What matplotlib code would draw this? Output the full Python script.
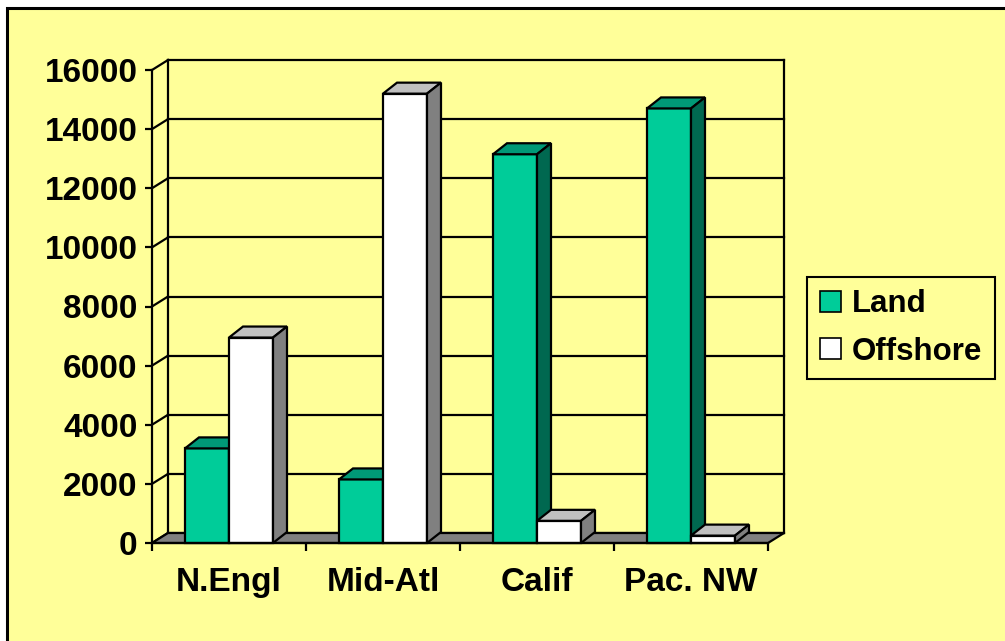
import matplotlib.pyplot as plt
import matplotlib.patches as mpatches
import numpy as np

plt.rcParams["font.family"] = ["Liberation Sans", "DejaVu Sans"]
plt.rcParams["font.weight"] = "bold"

categories = ["N.Engl", "Mid-Atl", "Calif", "Pac. NW"]
land = [3200, 2150, 13150, 14700]
offshore = [6950, 15200, 750, 250]
series_names = ["Land", "Offshore"]
y_ticks = np.arange(0, 16001, 2000)

YELLOW = "#FFFF99"
face_cols = [("#00CC99", "#009977", "#006850"), ("#FFFFFF", "#C0C0C0", "#808080")]

W, H = 1005, 641
fig = plt.figure(figsize=(W / 100, H / 100), dpi=100, facecolor="white")
fig.patches.append(mpatches.Rectangle((7 / W, -0.05), 1.1, 1 - 8 / H + 0.05,
                                      transform=fig.transFigure, facecolor=YELLOW,
                                      edgecolor="black", lw=2.2, zorder=-5))

ax = fig.add_axes([152 / W, 98 / H, 616 / W, 473 / H])
ax.set_facecolor("none")
ax.set_xlim(0, 4)
ax.set_ylim(0, 16000)

# depth of the 3d box, converted from pixels to data units
px_x = 4 / 616
px_y = 16000 / 473
ddx, ddy = 16 * px_x, 10 * px_y
bdx, bdy = 14 * px_x, 11 * px_y
lw = 1.6

# back wall + side wall grid
for v in y_ticks:
    ax.plot([ddx, 4 + ddx], [v + ddy, v + ddy], color="black", lw=lw, clip_on=False, zorder=1)
    ax.plot([0, ddx], [v, v + ddy], color="black", lw=lw, clip_on=False, zorder=1)
ax.plot([ddx, ddx], [ddy, 16000 + ddy], color="black", lw=lw, clip_on=False, zorder=1)
ax.plot([4 + ddx, 4 + ddx], [ddy, 16000 + ddy], color="black", lw=lw, clip_on=False, zorder=1)

# floor
ax.add_patch(mpatches.Polygon([(0, 0), (4, 0), (4 + ddx, ddy), (ddx, ddy)], closed=True,
                              facecolor="#808080", edgecolor="black", lw=lw, clip_on=False, zorder=2))

bw = 44 / 154
z = 3
for i in range(len(categories)):
    for s, vals in enumerate([land, offshore]):
        v = vals[i]
        x0 = i + 0.5 - bw + s * bw
        front, top, side = face_cols[s]
        ax.bar(x0, v, width=bw, align="edge", color=front, edgecolor="black", lw=lw,
               clip_on=False, zorder=z)
        ax.add_patch(mpatches.Polygon([(x0, v), (x0 + bw, v), (x0 + bw + bdx, v + bdy), (x0 + bdx, v + bdy)],
                                      closed=True, facecolor=top, edgecolor="black", lw=lw,
                                      clip_on=False, zorder=z))
        ax.add_patch(mpatches.Polygon([(x0 + bw, 0), (x0 + bw + bdx, bdy), (x0 + bw + bdx, v + bdy), (x0 + bw, v)],
                                      closed=True, facecolor=side, edgecolor="black", lw=lw,
                                      clip_on=False, zorder=z))
        z += 1

for sp in ["top", "right"]:
    ax.spines[sp].set_visible(False)
ax.spines["left"].set_linewidth(lw)
ax.spines["bottom"].set_linewidth(lw)
ax.spines["left"].set_zorder(20)
ax.spines["bottom"].set_zorder(20)

ax.set_yticks(y_ticks)
ax.set_yticklabels([str(v) for v in y_ticks], fontsize=24, fontweight="bold")
ax.tick_params(axis="y", length=5, width=lw, pad=5.5)
ax.set_xticks(np.arange(0, 5))
ax.set_xticklabels([])
ax.tick_params(axis="x", which="major", length=6, width=lw)
ax.set_xticks(np.arange(len(categories)) + 0.5, minor=True)
ax.set_xticklabels(categories, minor=True, fontsize=24, fontweight="bold")
ax.tick_params(axis="x", which="minor", length=0, pad=17)

handles = [mpatches.Patch(facecolor=face_cols[s][0], edgecolor="black", lw=1.2) for s in range(2)]
leg = fig.legend(handles, series_names, loc="upper left", bbox_to_anchor=(807 / W, 1 - 277 / H),
                 bbox_transform=fig.transFigure, borderaxespad=0,
                 prop={"weight": "bold", "size": 22.5}, frameon=True, fancybox=False,
                 facecolor=YELLOW, edgecolor="black", framealpha=1,
                 handlelength=0.68, handleheight=0.68, handletextpad=0.35,
                 labelspacing=0.55, borderpad=0.4)
leg.get_frame().set_linewidth(1.5)

fig.savefig("out.png", dpi=100, facecolor="white")
